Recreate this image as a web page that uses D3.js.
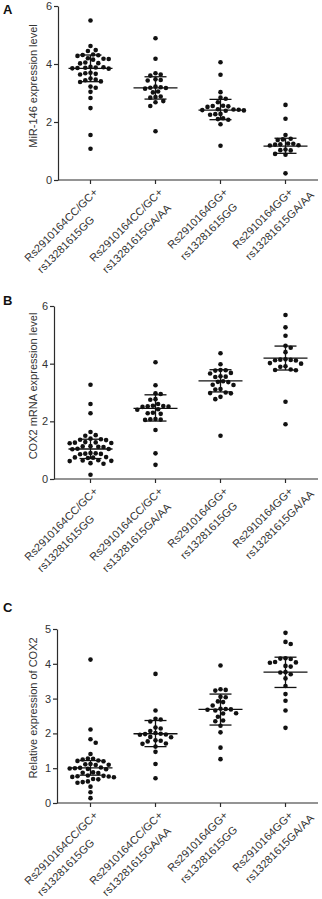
<!DOCTYPE html>
<html>
<head>
<meta charset="utf-8">
<script src="https://cdn.jsdelivr.net/npm/d3@7"></script>
<style>
body { margin: 0; background: #fff; }
svg { display: block; font-family: "Liberation Sans", Arial, sans-serif; }
</style>
</head>
<body>
<svg id="chart" width="322" height="899"></svg>
<script>
// x category labels (two lines each)
var groupLine1 = ["Rs2910164CC/GC+", "Rs2910164CC/GC+", "Rs2910164GG+", "Rs2910164GG+"];
var groupLine2 = ["rs13281615GG", "rs13281615GA/AA", "rs13281615GG", "rs13281615GA/AA"];

// A: MiR-146
var mir146 = [
    [5.50, 4.62, 4.48, 4.45, 4.33, 4.31, 4.30, 4.28, 4.20, 4.18, 4.17, 4.15, 4.05, 4.03, 4.02, 3.90, 3.89, 3.88, 3.87, 3.86, 3.85, 3.84, 3.70, 3.68, 3.66, 3.64, 3.50, 3.46, 3.44, 3.40, 3.38, 3.22, 3.18, 3.04, 2.83, 2.48, 1.55, 1.08],
    [4.89, 4.18, 3.68, 3.64, 3.60, 3.47, 3.45, 3.43, 3.22, 3.20, 3.18, 3.17, 3.15, 3.05, 3.02, 2.88, 2.86, 2.84, 2.72, 2.68, 2.55, 1.68],
    [4.06, 3.63, 3.03, 2.84, 2.80, 2.68, 2.56, 2.55, 2.54, 2.52, 2.44, 2.43, 2.42, 2.41, 2.40, 2.39, 2.28, 2.27, 2.25, 2.13, 2.10, 2.08, 1.92, 1.18],
    [2.59, 2.11, 1.55, 1.42, 1.40, 1.38, 1.26, 1.25, 1.23, 1.22, 1.20, 1.19, 1.05, 1.03, 1.02, 0.90, 0.87, 0.23]
];
var mir146Mean = [3.85, 3.18, 2.41, 1.17];
var mir146Bar = [[3.39, 4.31], [2.79, 3.56], [2.08, 2.78], [0.92, 1.44]];
var mir146Ticks = [0, 2, 4, 6];

// B: COX2 mRNA
var cox2mrna = [
    [3.27, 2.60, 2.28, 1.63, 1.52, 1.50, 1.40, 1.38, 1.36, 1.35, 1.28, 1.27, 1.26, 1.25, 1.24, 1.14, 1.13, 1.12, 1.11, 1.05, 1.04, 1.03, 0.90, 0.89, 0.88, 0.87, 0.86, 0.76, 0.75, 0.74, 0.73, 0.65, 0.64, 0.63, 0.62, 0.55, 0.53, 0.15],
    [4.05, 3.25, 2.97, 2.95, 2.77, 2.75, 2.60, 2.54, 2.53, 2.52, 2.51, 2.50, 2.42, 2.40, 2.30, 2.28, 2.26, 2.08, 2.07, 2.06, 2.05, 1.70, 0.89, 0.49],
    [4.36, 3.98, 3.78, 3.77, 3.76, 3.68, 3.66, 3.56, 3.55, 3.54, 3.39, 3.37, 3.36, 3.27, 3.26, 3.12, 3.10, 3.00, 2.98, 2.97, 2.85, 2.77, 1.50],
    [5.69, 5.26, 4.97, 4.62, 4.55, 4.40, 4.15, 4.14, 4.13, 4.12, 4.11, 4.02, 4.00, 3.91, 3.89, 3.80, 3.78, 3.77, 2.68, 1.90]
];
var cox2mrnaMean = [1.04, 2.45, 3.40, 4.19];
var cox2mrnaBar = [[0.71, 1.38], [2.01, 2.92], [3.02, 3.79], [3.78, 4.61]];
var cox2mrnaTicks = [0, 2, 4, 6];

// C: relative COX2
var cox2rel = [
    [4.12, 2.11, 1.83, 1.73, 1.41, 1.28, 1.27, 1.25, 1.22, 1.21, 1.20, 1.12, 1.11, 1.10, 1.09, 1.02, 1.01, 1.00, 0.99, 0.98, 0.97, 0.88, 0.87, 0.86, 0.79, 0.78, 0.77, 0.76, 0.75, 0.74, 0.69, 0.68, 0.62, 0.60, 0.58, 0.47, 0.31, 0.14],
    [3.71, 2.66, 2.42, 2.40, 2.34, 2.17, 2.14, 2.07, 2.01, 1.99, 1.98, 1.97, 1.96, 1.90, 1.89, 1.80, 1.79, 1.77, 1.71, 1.70, 1.62, 1.47, 1.12, 0.71],
    [3.95, 3.27, 3.25, 3.23, 3.05, 3.04, 2.92, 2.90, 2.80, 2.71, 2.70, 2.69, 2.68, 2.66, 2.58, 2.57, 2.48, 2.37, 2.35, 2.22, 2.03, 1.59, 1.26],
    [4.89, 4.63, 4.57, 4.16, 4.15, 4.14, 4.05, 4.04, 4.03, 3.94, 3.92, 3.76, 3.75, 3.70, 3.58, 3.36, 3.13, 2.94, 2.66, 2.16]
];
var cox2relMean = [1.01, 1.99, 2.69, 3.76];
var cox2relBar = [[0.80, 1.22], [1.62, 2.37], [2.24, 3.13], [3.32, 4.19]];
var cox2relTicks = [0, 1, 2, 3, 4, 5];

var panels = [
    { letter: "A", letterY: 14, title: "MiR-146 expression level", titleY: 86, values: mir146, mean: mir146Mean, bar: mir146Bar, ticks: mir146Ticks, axisX: 58, top: 6, bottom: 180 },
    { letter: "B", letterY: 305, title: "COX2 mRNA expression level", titleY: 386, values: cox2mrna, mean: cox2mrnaMean, bar: cox2mrnaBar, ticks: cox2mrnaTicks, axisX: 54, top: 306, bottom: 479 },
    { letter: "C", letterY: 612, title: "Relative expression of COX2", titleY: 708, values: cox2rel, mean: cox2relMean, bar: cox2relBar, ticks: cox2relTicks, axisX: 57, top: 629, bottom: 803 }
];

var svg = d3.select("#chart");
var axisColor = "#2b2b2b";
var textColor = "#333";
var radius = 2.3;

var xScale = d3.scaleBand()
    .domain(d3.range(groupLine1.length))
    .range([58, 318]);

// simple beeswarm: spread dots sideways so they don't overlap
function swarm(vals, y, step, minD) {
    var pts = vals.slice().sort((a, b) => b - a).map(v => ({ v: v, y: y(v), dx: 0 }));
    var placed = [];
    var flip = 1;
    pts.forEach(p => {
        for (var k = 0; k < 60; k++) {
            var cands = k === 0 ? [0] : [flip * k * step, -flip * k * step];
            var found = null;
            for (var c = 0; c < cands.length; c++) {
                var o = cands[c];
                var hit = placed.some(q => (q.dx - o) * (q.dx - o) + (q.y - p.y) * (q.y - p.y) < minD * minD);
                if (!hit) { found = o; break; }
            }
            if (found !== null) {
                p.dx = found;
                if (found !== 0) flip = -flip;
                break;
            }
        }
        placed.push(p);
    });
    return pts;
}

panels.forEach(function (P) {
    var maxV = d3.max(P.ticks);
    var yScale = d3.scaleLinear().domain([0, maxV]).range([P.bottom, P.top]);
    var g = svg.append("g");

    // panel letter
    g.append("text")
        .attr("x", 3)
        .attr("y", P.letterY)
        .attr("font-size", 13)
        .attr("font-weight", "bold")
        .attr("fill", "#111")
        .text(P.letter);

    // y axis
    var yAxis = g.append("g")
        .attr("transform", "translate(" + P.axisX + ",0)")
        .call(d3.axisLeft(yScale).tickValues(P.ticks).tickFormat(d3.format("d")).tickSize(4).tickPadding(2).tickSizeOuter(0));
    yAxis.select(".domain").attr("stroke", axisColor).attr("stroke-width", 1.2);
    yAxis.selectAll(".tick line").attr("stroke", axisColor).attr("stroke-width", 1.2);
    yAxis.selectAll(".tick text").attr("fill", textColor).attr("font-size", 11).attr("font-family", "Liberation Sans, Arial, sans-serif");

    // x axis
    g.append("line")
        .attr("x1", P.axisX).attr("x2", 318)
        .attr("y1", P.bottom).attr("y2", P.bottom)
        .attr("stroke", axisColor).attr("stroke-width", 1.2);

    var xAxis = g.append("g")
        .attr("transform", "translate(0," + P.bottom + ")")
        .call(d3.axisBottom(xScale).tickFormat("").tickSize(4).tickSizeOuter(0));
    xAxis.select(".domain").remove();
    xAxis.selectAll(".tick line").attr("stroke", axisColor).attr("stroke-width", 1.2);

    // rotated two-line category labels
    groupLine1.forEach(function (l1, i) {
        var cx = xScale(i) + xScale.bandwidth() / 2;
        var lg = g.append("g")
            .attr("transform", "translate(" + (cx + 8) + "," + (P.bottom + 13) + ") rotate(-45)")
            .attr("font-size", 11)
            .attr("fill", textColor);
        var t1 = lg.append("text").attr("text-anchor", "end").text(l1);
        var len1 = t1.node().getComputedTextLength();
        lg.append("text")
            .attr("text-anchor", "start")
            .attr("x", -len1 + 1)
            .attr("y", 17)
            .text(groupLine2[i]);
    });

    // y title
    g.append("text")
        .attr("transform", "translate(37," + P.titleY + ") rotate(-90)")
        .attr("text-anchor", "middle")
        .attr("font-size", 11)
        .attr("fill", textColor)
        .text(P.title);

    // dots
    P.values.forEach(function (vals, i) {
        var cx = xScale(i) + xScale.bandwidth() / 2;
        var pts = swarm(vals, yScale, 2.6, 5);
        g.selectAll(".dot" + i)
            .data(pts)
            .enter().append("circle")
            .attr("cx", d => cx + d.dx)
            .attr("cy", d => d.y)
            .attr("r", radius)
            .attr("fill", "#111");

        // mean and error bar
        var lo = yScale(P.bar[i][0]), hi = yScale(P.bar[i][1]), m = yScale(P.mean[i]);
        var eb = g.append("g").attr("stroke", "#111").attr("stroke-width", 1.3);
        eb.append("line").attr("x1", cx).attr("x2", cx).attr("y1", lo).attr("y2", hi);
        eb.append("line").attr("x1", cx - 11).attr("x2", cx + 11).attr("y1", lo).attr("y2", lo);
        eb.append("line").attr("x1", cx - 11).attr("x2", cx + 11).attr("y1", hi).attr("y2", hi);
        eb.append("line").attr("x1", cx - 22).attr("x2", cx + 22).attr("y1", m).attr("y2", m);
    });
});
</script>
</body>
</html>
